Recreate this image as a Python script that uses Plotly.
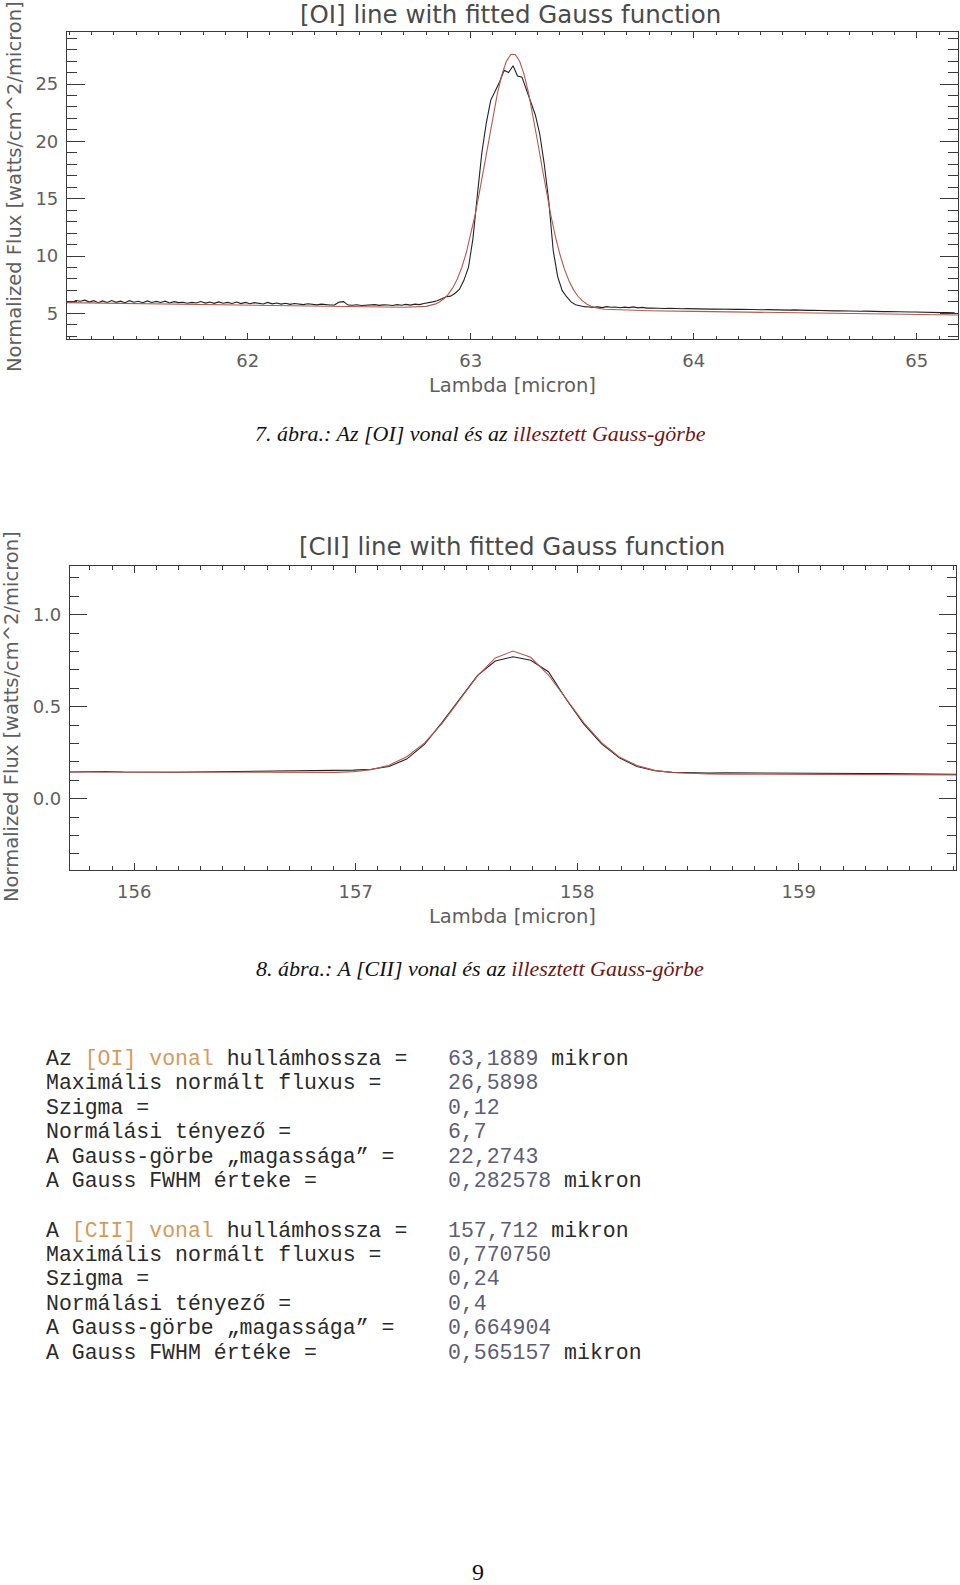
import plotly.graph_objects as go

# ---------------- data ----------------
# [OI] spectrum: uniform wavelength sampling
OI_LAMBDA_START = 61.19
OI_LAMBDA_STEP = 0.02
oi_flux = [
    6.00, 5.95, 6.12, 6.05, 6.15, 5.98, 6.10, 5.92, 6.08, 5.95,
    6.12, 5.96, 6.06, 5.93, 6.10, 5.97, 6.05, 5.92, 6.08, 5.94,
    6.04, 5.95, 6.06, 5.90, 6.02, 5.93, 5.96, 5.88, 5.95, 5.90,
    6.03, 5.89, 5.98, 5.87, 6.00, 5.88, 5.95, 5.86, 5.98, 5.85,
    5.95, 5.84, 5.93, 5.86, 5.82, 5.95, 5.83, 5.90, 5.80, 5.88,
    5.78, 5.86, 5.80, 5.76, 5.84, 5.78, 5.74, 5.80, 5.75, 5.72,
    5.74, 5.98, 6.02, 5.72, 5.70, 5.75, 5.68, 5.72, 5.70, 5.76,
    5.69, 5.74, 5.72, 5.68, 5.76, 5.70, 5.78, 5.72, 5.80, 5.76,
    5.85, 5.90,
    6.0, 6.1, 6.3, 6.45, 6.5, 6.75, 7.1, 7.9, 9.0, 11.5,
    15.3, 19.0, 21.6, 23.6, 24.4, 25.2, 26.2, 26.0, 26.59, 25.7,
    25.6, 24.5, 23.5, 22.3, 20.6, 18.0, 14.8, 10.5, 8.2, 7.0,
    6.45, 6.0, 5.75, 5.65, 5.58,
    5.55, 5.52, 5.56, 5.50, 5.58, 5.53, 5.55, 5.49, 5.54, 5.50,
    5.56, 5.48, 5.52, 5.45, 5.47, 5.44, 5.46, 5.42, 5.44, 5.41,
    5.42, 5.40, 5.41, 5.39, 5.40, 5.38, 5.39, 5.37, 5.38, 5.36,
    5.37, 5.35, 5.36, 5.34, 5.35, 5.33, 5.34, 5.32, 5.33, 5.31,
    5.32, 5.30, 5.31, 5.29, 5.30, 5.28, 5.30, 5.27, 5.28, 5.26,
    5.27, 5.25, 5.22, 5.23, 5.22, 5.21, 5.22, 5.20, 5.21, 5.19,
    5.20, 5.18, 5.19, 5.17, 5.18, 5.16, 5.15, 5.16, 5.14, 5.13,
    5.14, 5.12, 5.11, 5.12, 5.10, 5.09, 5.08, 5.09, 5.07, 5.06,
    5.06, 5.05, 5.05,
]
oi_lambda = [round(OI_LAMBDA_START + OI_LAMBDA_STEP * i, 3) for i in range(len(oi_flux))]

# [OI] fitted Gauss curve
oi_fit_lambda = [
    61.19, 61.4, 61.6, 61.8, 62.0, 62.2, 62.4, 62.6, 62.7, 62.8,
    62.84, 62.86, 62.88, 62.90, 62.92, 62.94, 62.96, 62.98, 63.00, 63.02,
    63.04, 63.06, 63.08, 63.10, 63.12, 63.14, 63.16, 63.18, 63.20, 63.22,
    63.24, 63.26, 63.28, 63.30, 63.32, 63.34, 63.36, 63.38, 63.40, 63.42,
    63.44, 63.46, 63.48, 63.50, 63.52, 63.54, 63.56, 63.6, 63.7, 63.8,
    64.0, 64.2, 64.4, 64.6, 64.8, 65.0, 65.185,
]
oi_fit_flux = [
    5.93, 5.873, 5.819, 5.765, 5.711, 5.657, 5.603, 5.549, 5.527, 5.61,
    5.80, 5.99, 6.27, 6.67, 7.24, 8.00, 9.00, 10.26, 11.80, 13.60,
    15.63, 17.81, 20.05, 22.22, 24.20, 25.82, 26.98, 27.59, 27.58, 26.96,
    25.80, 24.16, 22.18, 19.99, 17.74, 15.55, 13.51, 11.70, 10.15, 8.88,
    7.87, 7.09, 6.51, 6.10, 5.81, 5.61, 5.48, 5.35, 5.256, 5.226,
    5.172, 5.118, 5.064, 5.009, 4.955, 4.901, 4.851,
]

# [CII] spectrum and fit on uniform sampling
CII_LAMBDA_START = 155.71
CII_LAMBDA_STEP = 0.08
cii_flux = [
    0.145, 0.147, 0.148, 0.145, 0.144, 0.144, 0.144, 0.145, 0.146, 0.146,
    0.147, 0.147, 0.148, 0.149, 0.150,
    0.152, 0.155, 0.160, 0.175, 0.215, 0.295, 0.415, 0.545, 0.670, 0.748,
    0.7708, 0.752, 0.690, 0.540, 0.405, 0.298, 0.222, 0.175, 0.152, 0.143,
    0.140,
    0.139, 0.140, 0.140, 0.139, 0.138, 0.139, 0.141, 0.139, 0.138, 0.137,
    0.136, 0.135, 0.134, 0.133, 0.132,
]
cii_fit = [
    0.145, 0.1447, 0.1444, 0.1440, 0.1437, 0.1434, 0.1431, 0.1428, 0.1424, 0.1421,
    0.1418, 0.1415, 0.1412, 0.1412, 0.1416,
    0.143, 0.147, 0.158, 0.182, 0.228, 0.302, 0.409, 0.538, 0.667, 0.765,
    0.802, 0.768, 0.672, 0.543, 0.412, 0.304, 0.227, 0.180, 0.154, 0.142,
    0.137,
    0.1344, 0.1334, 0.1330, 0.1327, 0.1324, 0.1321, 0.1318, 0.1314, 0.1311, 0.1308,
    0.1305, 0.1302, 0.1298, 0.1295, 0.1292,
]
cii_lambda = [round(CII_LAMBDA_START + CII_LAMBDA_STEP * i, 3) for i in range(len(cii_flux))]

# texts
chart_titles = ["[OI] line with fitted Gauss function", "[CII] line with fitted Gauss function"]
x_title = "Lambda [micron]"
y_title = "Normalized Flux [watts/cm^2/micron]"
captions = [
    ("7. ábra.: Az [OI] vonal és az ", "illesztett Gauss-görbe"),
    ("8. ábra.: A [CII] vonal és az ", "illesztett Gauss-görbe"),
]
oi_labels = [("Az ", "[OI] vonal", " hullámhossza ="), ("Maximális normált fluxus =", "", ""),
             ("Szigma =", "", ""), ("Normálási tényező =", "", ""),
             ("A Gauss-görbe „magassága” =", "", ""), ("A Gauss FWHM érteke =", "", "")]
oi_values = [("63,1889", " mikron"), ("26,5898", ""), ("0,12", ""), ("6,7", ""),
             ("22,2743", ""), ("0,282578", " mikron")]
cii_labels = [("A ", "[CII] vonal", " hullámhossza ="), ("Maximális normált fluxus =", "", ""),
              ("Szigma =", "", ""), ("Normálási tényező =", "", ""),
              ("A Gauss-görbe „magassága” =", "", ""), ("A Gauss FWHM értéke =", "", "")]
cii_values = [("157,712", " mikron"), ("0,770750", ""), ("0,24", ""), ("0,4", ""),
              ("0,664904", ""), ("0,565157", " mikron")]
page_number = "9"

# ---------------- styling ----------------
W, H = 960, 1585
DATA_COLOR = "#222222"
FIT_COLOR = "#b35a4e"
AXIS_COLOR = "#3a3a3a"
TEXT_GRAY = "#5e5e5e"
CHART_FONT = "DejaVu Sans ExtraLight, DejaVu Sans"
MONO = "Liberation Mono"
SERIF = "Liberation Serif"


def px_x(p):
    return p / W


def px_y(p):
    return 1 - p / H


def axis(rng, domain, dtick, tick0, mdtick, tlen, mlen, anchor, fmt=None, standoff=0):
    d = dict(
        range=rng, domain=domain, anchor=anchor,
        showline=True, linecolor=AXIS_COLOR, linewidth=1.2, mirror="ticks",
        ticks="inside", ticklen=tlen, tickwidth=1.2, tickcolor=AXIS_COLOR,
        tickmode="linear", dtick=dtick, tick0=tick0,
        minor=dict(ticks="inside", ticklen=mlen, dtick=mdtick, tick0=tick0,
                   tickcolor=AXIS_COLOR, tickwidth=1.1, showgrid=False),
        showgrid=False, zeroline=False,
        tickfont=dict(family=CHART_FONT, size=18, color=TEXT_GRAY),
        ticklabelstandoff=standoff,
    )
    if fmt:
        d["tickformat"] = fmt
    return d


fig = go.Figure()
fig.add_trace(go.Scatter(x=oi_lambda, y=oi_flux, mode="lines",
                         line=dict(color=DATA_COLOR, width=1.1), xaxis="x", yaxis="y"))
fig.add_trace(go.Scatter(x=oi_fit_lambda, y=oi_fit_flux, mode="lines",
                         line=dict(color=FIT_COLOR, width=1.1), xaxis="x", yaxis="y"))
fig.add_trace(go.Scatter(x=cii_lambda, y=cii_flux, mode="lines",
                         line=dict(color=DATA_COLOR, width=1.1), xaxis="x2", yaxis="y2"))
fig.add_trace(go.Scatter(x=cii_lambda, y=cii_fit, mode="lines",
                         line=dict(color=FIT_COLOR, width=1.1), xaxis="x2", yaxis="y2"))

top_x_dom = [px_x(67), px_x(958)]
top_y_dom = [px_y(339), px_y(32)]
bot_x_dom = [px_x(70), px_x(956)]
bot_y_dom = [px_y(870), px_y(565.7)]

fig.update_layout(
    width=W, height=H, margin=dict(l=0, r=0, t=0, b=0),
    paper_bgcolor="white", plot_bgcolor="white", showlegend=False,
    xaxis=axis([61.19, 65.185], top_x_dom, 1, 62, 0.1, 6, 3, "y", standoff=5),
    yaxis=axis([2.76, 29.54], top_y_dom, 5, 0, 1, 18, 10, "x", standoff=4),
    xaxis2=axis([155.71, 159.71], bot_x_dom, 1, 156, 0.1, 7, 4, "y2", standoff=5),
    yaxis2=axis([-0.3875, 1.266], bot_y_dom, 0.5, 0, 0.1, 17, 9, "x2", fmt=".1f", standoff=4),
)

ann = []


def add_text(text, x, y, size, family, color, xanchor="center", angle=0):
    ann.append(dict(text=text, x=px_x(x), y=px_y(y), xref="paper", yref="paper",
                    xanchor=xanchor, yanchor="middle", showarrow=False, textangle=angle,
                    font=dict(size=size, family=family, color=color)))


# chart titles and axis titles
add_text(chart_titles[0], 510, 14, 24.5, CHART_FONT, "#4a4a4a")
add_text(x_title, 512, 385, 19.5, CHART_FONT, TEXT_GRAY)
add_text(y_title, 14, 187, 19.5, CHART_FONT, TEXT_GRAY, angle=-90)
add_text(chart_titles[1], 512, 546, 24.5, CHART_FONT, "#4a4a4a")
add_text(x_title, 512, 916, 19.5, CHART_FONT, TEXT_GRAY)
add_text(y_title, 12, 717, 19.5, CHART_FONT, TEXT_GRAY, angle=-90)

# captions
CAP_RED = "#6e1515"
for (plain, red), y in zip(captions, [433, 968]):
    add_text(f"<i>{plain}<span style='color:{CAP_RED}'>{red}</span></i>", 480, y, 22, SERIF, "#111111")

# text block
LABEL_C = "#2a2a2a"
ORANGE = "#d49a5c"
VALUE_C = "#5d5d75"
oi_ys = [1059, 1083, 1108, 1132, 1157, 1181]
cii_ys = [1231, 1255, 1279, 1304, 1328, 1353]
for labels, values, ys in [(oi_labels, oi_values, oi_ys), (cii_labels, cii_values, cii_ys)]:
    for (a, b, c), (v, unit), y in zip(labels, values, ys):
        t = a
        if b:
            t += f"<span style='color:{ORANGE}'>{b}</span>"
        t += c
        add_text(t, 44, y, 21.5, MONO, LABEL_C, xanchor="left")
        vt = v + (f"<span style='color:{LABEL_C}'>{unit}</span>" if unit else "")
        add_text(vt, 446, y, 21.5, MONO, VALUE_C, xanchor="left")

add_text(page_number, 478, 1572, 24, SERIF, "#111111")

fig.update_layout(annotations=ann)
# remove the browser's default 8px page margin so the figure sits at the page origin
fig.write_html("out.html", config={"displayModeBar": False},
               post_script="document.body.style.margin='0px';")
